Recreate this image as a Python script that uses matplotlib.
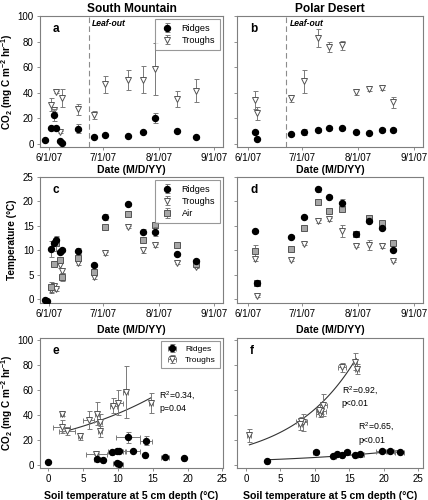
import matplotlib
matplotlib.use('Agg')
import matplotlib.pyplot as plt
import matplotlib.dates as mdates
from matplotlib.ticker import FuncFormatter
import numpy as np
import datetime as dt

plt.rcParams['font.family'] = ['Liberation Sans', 'DejaVu Sans']
plt.rcParams['mathtext.fontset'] = 'custom'
plt.rcParams['mathtext.rm'] = 'Liberation Sans'
plt.rcParams['mathtext.bf'] = 'Liberation Sans:bold'
plt.rcParams['mathtext.it'] = 'Liberation Sans:italic'

# ---------------- data ----------------
# South Mountain CO2 flux (panel a)
sm_ridge_co2_dates = ['5/30', '6/2', '6/4', '6/5', '6/7', '6/8', '6/17', '6/26', '7/2', '7/15', '7/23', '7/30', '8/11', '8/22']
sm_ridge_co2 = [3, 12, 22.5, 12, 2, 0.5, 11.7, 5.5, 7, 6, 8.9, 20, 10, 5]
sm_ridge_co2_err = [0.3, 1, 4.5, 1, 0.5, 0.3, 3.5, 0.5, 0.5, 0.5, 0.8, 4, 1, 1]
sm_trough_co2_dates = ['6/2', '6/4', '6/5', '6/7', '6/8', '6/17', '6/26', '7/2', '7/15', '7/23', '7/30', '8/11', '8/22']
sm_trough_co2 = [30.5, 26.5, 40.5, 9, 36, 27, 22.5, 46.5, 50, 50, 58.5, 35, 41.5]
sm_trough_co2_err = [5, 2, 0.5, 0.8, 7, 4.5, 3, 6.5, 8, 10.5, 20.5, 6.5, 9]

# Polar Desert CO2 flux (panel b)
pd_dates = ['6/5', '6/6', '6/25', '7/2', '7/10', '7/16', '7/23', '7/31', '8/7', '8/14', '8/20']
pd_ridge_co2 = [8.9, 4, 7.3, 9, 11, 12.5, 12, 9, 8.3, 11, 10.5]
pd_ridge_co2_err = [1, 0.5, 1, 2.5, 1.5, 1.5, 1.5, 1, 1, 1.5, 1.5]
pd_trough_co2 = [34, 24, 35.5, 49, 83, 76, 77, 40.6, 43, 44, 32.5]
pd_trough_co2_err = [7, 5, 3, 9, 7, 4, 3.5, 2.5, 2, 2, 4.5]

# South Mountain temperature (panel c)
sm_ridge_t_dates = ['5/30', '5/31', '6/2', '6/4', '6/5', '6/7', '6/8', '6/17', '6/26', '7/2', '7/15', '7/23', '7/30', '8/11', '8/22']
sm_ridge_t = [-0.1, -0.3, 10.2, 11.4, 12.2, 9.6, 10.1, 9.8, 6.9, 16.8, 19.4, 13.8, 13.8, 9.2, 7.9]
sm_ridge_t_err = [0.1, 0.1, 1.6, 0.5, 0.5, 0.4, 0.3, 0.6, 0.3, 0.6, 0.3, 0.5, 0.9, 0.3, 0.3]
sm_trough_t_dates = ['6/2', '6/4', '6/5', '6/7', '6/8', '6/17', '6/26', '7/2', '7/15', '7/23', '7/30', '8/11', '8/22']
sm_trough_t = [1.9, 2.7, 2.0, 6.9, 5.8, 7.3, 4.5, 9.4, 14.8, 10.1, 11.0, 7.4, 6.6]
sm_trough_t_err = [0.4, 0.4, 0.3, 0.6, 0.5, 0.4, 0.3, 0.3, 0.2, 0.6, 0.3, 0.3, 0.3]
sm_air_t_dates = ['6/2', '6/4', '6/5', '6/7', '6/8', '6/17', '6/26', '7/2', '7/15', '7/23', '7/30', '8/11', '8/22']
sm_air_t = [2.4, 7.1, 11.4, 8.1, 4.5, 8.5, 5.5, 14.8, 17.5, 12.2, 15.1, 11.1, 7.1]
sm_air_t_err = [1.2, 0.3, 1.5, 0.5, 0.8, 0.8, 0.5, 0.3, 0.5, 0.6, 0.5, 0.4, 0.4]

# Polar Desert temperature (panel d)
pd_ridge_t = [13.9, 3.3, 12.8, 16.8, 22.5, 21.0, 19.7, 13.3, 16.0, 14.6, 10.1]
pd_ridge_t_err = [0.3, 0.3, 0.3, 0.3, 0.5, 0.3, 0.8, 0.3, 0.3, 0.3, 0.3]
pd_trough_t = [8.3, 0.6, 8.1, 11.3, 15.9, 16.3, 13.9, 10.9, 11.0, 10.9, 7.8]
pd_trough_t_err = [0.5, 0.2, 0.3, 0.3, 0.3, 0.3, 1.2, 0.3, 1.0, 0.4, 0.3]
pd_air_t = [9.9, 3.3, 10.3, 14.6, 19.9, 18.0, 18.5, 13.3, 16.6, 15.6, 11.5]
pd_air_t_err = [1.2, 0.3, 0.3, 0.3, 0.3, 0.3, 0.5, 0.3, 0.3, 0.3, 0.4]

# Panel e: South Mountain flux vs soil temperature
sm_ridge_soil_t = [0, 11.4, 14.0, 7.0, 7.9, 9.2, 9.8, 10.2, 12.2, 13.9, 16.8, 19.5, 9.8, 10.2]
sm_ridge_soil_t_err = [0, 1.7, 0.9, 0.4, 0.3, 0.3, 1.2, 0.5, 1.0, 0.3, 0.6, 0.3, 0.5, 0.5]
sm_ridge_flux = [2.7, 22.0, 19.5, 4.8, 4.0, 10.1, 11.2, 11.5, 11.2, 8.2, 6.7, 5.5, 1.3, 0.5]
sm_ridge_flux_err = [0.3, 4.5, 3.5, 1, 1, 1, 1, 1, 1, 0.8, 0.5, 0.5, 0.5, 0.3]
sm_trough_soil_t = [1.9, 2.7, 2.0, 6.9, 5.8, 7.4, 4.5, 9.3, 14.7, 10.0, 11.1, 7.4, 7.0]
sm_trough_soil_t_err = [1.2, 1.2, 0.3, 1.5, 0.8, 0.3, 0.3, 0.5, 0.3, 0.7, 0.4, 0.3, 0.3]
sm_trough_flux = [30.6, 26.8, 40.5, 9.0, 35.8, 26.8, 22.9, 47.5, 49.6, 49.6, 58.4, 34.5, 41.0]
sm_trough_flux_err = [5, 3, 1.5, 0.8, 7, 4.5, 3, 6, 8, 10, 20.5, 6.5, 9]

# Panel f: Polar Desert flux vs soil temperature
pd_ridge_soil_t = [13.9, 3.1, 12.7, 16.6, 22.3, 20.9, 19.7, 13.2, 15.9, 14.6, 10.1]
pd_ridge_soil_t_err = [0.3, 0.3, 0.3, 0.5, 0.7, 0.6, 0.8, 0.3, 0.3, 0.3, 0.3]
pd_ridge_flux = [8.0, 3.5, 7.3, 8.6, 10.2, 11.2, 11.0, 8.6, 7.6, 10.5, 10.1]
pd_ridge_flux_err = [1, 0.5, 1, 2, 1, 1.5, 1.5, 1, 1, 1.5, 1.5]
pd_trough_soil_t = [8.3, 0.5, 8.0, 11.2, 15.8, 16.1, 13.9, 10.7, 10.9, 10.6, 7.8]
pd_trough_soil_t_err = [0.5, 0.3, 0.8, 0.5, 0.3, 0.3, 0.6, 0.5, 0.7, 0.5, 0.3]
pd_trough_flux = [34, 23.6, 35.5, 48, 82.6, 76.6, 78, 40.6, 43, 44, 32.5]
pd_trough_flux_err = [7, 5, 3, 9, 7, 4, 3.5, 2.5, 2, 2, 4.5]

# exponential fits y = a*exp(b*x) (a, b, xmin, xmax)
fit_e_trough = (23.4, 0.0563, 2.0, 14.8)
fit_f_trough = (15.2, 0.1077, 0.5, 16.0)
fit_f_ridge = (3.47, 0.0535, 3.0, 22.3)

leafout_sm = '6/23'
leafout_pd = '6/22'
date_ticks = ['6/1', '7/1', '8/1', '9/1']


def D(s):
    m, d = s.split('/')
    return dt.datetime(2007, int(m), int(d))


def DL(lst):
    return [D(s) for s in lst]


# ---------------- styles ----------------
FRAME = '#7f7f7f'
ECOL = '#7a7a7a'
ridge_kw = dict(fmt='o', color='black', mfc='black', mec='black', ms=4.3,
                ecolor=ECOL, elinewidth=0.7, capsize=1.8, capthick=0.7, zorder=4)
trough_kw = dict(fmt='v', mfc='white', mec='#555555', mew=0.7, ms=5,
                 ecolor=ECOL, elinewidth=0.7, capsize=1.8, capthick=0.7, zorder=3)
air_kw = dict(fmt='s', mfc='#a6a6a6', mec='#555555', mew=0.7, ms=4,
              ecolor=ECOL, elinewidth=0.7, capsize=1.8, capthick=0.7, zorder=3)

TICK_FS = 7.0
LAB_FS = 7.6

fig = plt.figure(figsize=(4.28, 5.0), dpi=100)
W, H = 428.0, 500.0


def add_axes(l, t, r, b):
    return fig.add_axes([l / W, 1 - b / H, (r - l) / W, (b - t) / H])


axa = add_axes(40, 16, 223, 147)
axb = add_axes(237, 16, 423, 147)
axc = add_axes(40, 177, 223, 303)
axd = add_axes(237, 177, 423, 303)
axe = add_axes(40, 338, 223, 468)
axf = add_axes(237, 338, 423, 468)


def style(ax, left_labels=True):
    for s in ax.spines.values():
        s.set_color(FRAME)
        s.set_linewidth(0.8)
    ax.tick_params(direction='out', length=2.5, width=0.6, color=FRAME,
                   labelsize=TICK_FS, pad=2, top=False, right=False)
    if not left_labels:
        ax.tick_params(labelleft=False)


def _fmt(v, p):
    d = mdates.num2date(v)
    return '%d/%d/%s' % (d.month, d.day, d.strftime('%y'))


date_fmt = FuncFormatter(_fmt)

# ---------------- panel a ----------------
ax = axa
ax.errorbar(DL(sm_trough_co2_dates), sm_trough_co2, yerr=sm_trough_co2_err, label='Troughs', **trough_kw)
ax.errorbar(DL(sm_ridge_co2_dates), sm_ridge_co2, yerr=sm_ridge_co2_err, label='Ridges', **ridge_kw)
ax.set_ylim(-2.5, 100)
ax.set_yticks([0, 20, 40, 60, 80, 100])

# ---------------- panel b ----------------
ax = axb
ax.errorbar(DL(pd_dates), pd_trough_co2, yerr=pd_trough_co2_err, **trough_kw)
ax.errorbar(DL(pd_dates), pd_ridge_co2, yerr=pd_ridge_co2_err, **ridge_kw)
ax.set_ylim(-2.5, 100)
ax.set_yticks([0, 20, 40, 60, 80, 100])

# ---------------- panel c ----------------
ax = axc
ax.errorbar(DL(sm_trough_t_dates), sm_trough_t, yerr=sm_trough_t_err, label='Troughs', **trough_kw)
ax.errorbar(DL(sm_air_t_dates), sm_air_t, yerr=sm_air_t_err, label='Air', **air_kw)
ax.errorbar(DL(sm_ridge_t_dates), sm_ridge_t, yerr=sm_ridge_t_err, label='Ridges', **ridge_kw)
ax.set_ylim(-0.8, 25)
ax.set_yticks([0, 5, 10, 15, 20, 25])

# ---------------- panel d ----------------
ax = axd
ax.errorbar(DL(pd_dates), pd_trough_t, yerr=pd_trough_t_err, **trough_kw)
ax.errorbar(DL(pd_dates), pd_ridge_t, yerr=pd_ridge_t_err, **ridge_kw)
ax.errorbar(DL(pd_dates), pd_air_t, yerr=pd_air_t_err, **air_kw)
ax.set_ylim(-0.8, 25)
ax.set_yticks([0, 5, 10, 15, 20, 25])

for ax, left, x0, x1, lp in [(axa, True, '5/27', '9/5', 1.5), (axb, False, '5/26', '9/5', 1.5),
                             (axc, True, '5/27', '9/5', 4), (axd, False, '5/26', '9/5', 4)]:
    ax.set_xlim(D(x0), D(x1) + dt.timedelta(hours=18))
    ax.set_xticks(DL(date_ticks))
    ax.xaxis.set_major_formatter(date_fmt)
    style(ax, left)
    ax.set_xlabel('Date (M/D/YY)', fontsize=LAB_FS, fontweight='bold', labelpad=lp)

# leaf-out lines
for ax, lo in [(axa, leafout_sm), (axb, leafout_pd)]:
    ax.axvline(D(lo), color='#8c8c8c', lw=0.8, ls=(0, (5, 3)), zorder=1)
    ax.text(D(lo) + dt.timedelta(days=2), 97.5, 'Leaf-out', fontsize=6.2,
            fontweight='bold', style='italic', va='top', ha='left')

# ---------------- panel e ----------------
ax = axe
ax.errorbar(sm_trough_soil_t, sm_trough_flux, xerr=sm_trough_soil_t_err, yerr=sm_trough_flux_err,
            label='Troughs', **trough_kw)
ax.errorbar(sm_ridge_soil_t, sm_ridge_flux, xerr=sm_ridge_soil_t_err, yerr=sm_ridge_flux_err,
            label='Ridges', **ridge_kw)
a_, b_, x0, x1 = fit_e_trough
xx = np.linspace(x0, x1, 100)
ax.plot(xx, a_ * np.exp(b_ * xx), color='#333333', lw=0.8, zorder=2)
ax.text(15.9, 50.5, 'R$^2$=0.34,\np=0.04', fontsize=6.3, va='center', ha='left', linespacing=1.3)
ax.set_xlim(-1.2, 25.1)

# ---------------- panel f ----------------
ax = axf
ax.errorbar(pd_trough_soil_t, pd_trough_flux, xerr=pd_trough_soil_t_err, yerr=pd_trough_flux_err,
            **trough_kw)
ax.errorbar(pd_ridge_soil_t, pd_ridge_flux, xerr=pd_ridge_soil_t_err, yerr=pd_ridge_flux_err,
            **ridge_kw)
for fitp in (fit_f_trough, fit_f_ridge):
    a_, b_, x0, x1 = fitp
    xx = np.linspace(x0, x1, 100)
    ax.plot(xx, a_ * np.exp(b_ * xx), color='#333333', lw=0.8, zorder=2)
ax.text(13.9, 55, 'R$^2$=0.92,\np<0.01', fontsize=6.3, va='center', ha='left', linespacing=1.3)
ax.text(16.3, 25.5, 'R$^2$=0.65,\np<0.01', fontsize=6.3, va='center', ha='left', linespacing=1.3)
ax.set_xlim(-1.3, 25.7)

for ax, left in [(axe, True), (axf, False)]:
    ax.set_ylim(-2.5, 101.5)
    ax.set_yticks([0, 20, 40, 60, 80, 100])
    ax.set_xticks([0, 5, 10, 15, 20, 25])
    style(ax, left)
    ax.set_xlabel('Soil temperature at 5 cm depth (\u00b0C)', fontsize=LAB_FS,
                  fontweight='bold', labelpad=5)

# y labels (right edge of rotated text sits at the given coordinate)
co2_label = 'CO$_\\mathbf{2}$ (mg C m$^\\mathbf{-2}$ hr$^\\mathbf{-1}$)'
for ax in (axa, axe):
    ax.set_ylabel(co2_label, fontsize=7.2, fontweight='bold')
    ax.yaxis.set_label_coords(-0.135, 0.5)
axc.set_ylabel('Temperature (\u00b0C)', fontsize=7.2, fontweight='bold')
axc.yaxis.set_label_coords(-0.125, 0.5)

# titles
axa.set_title('South Mountain', fontsize=8.6, fontweight='bold', pad=3)
axb.set_title('Polar Desert', fontsize=8.6, fontweight='bold', pad=3)

# panel letters
for ax, let in [(axa, 'a'), (axb, 'b'), (axc, 'c'), (axd, 'd'), (axe, 'e'), (axf, 'f')]:
    ax.text(0.07, 0.9, let, transform=ax.transAxes, fontsize=8.5, fontweight='bold',
            va='center', ha='left')

# legends
leg_kw = dict(loc='upper right', fontsize=6.6, frameon=True, fancybox=False,
              edgecolor=FRAME, borderpad=0.5, handletextpad=0.8, labelspacing=0.35,
              borderaxespad=0.35, handlelength=1.6)
h, l = axa.get_legend_handles_labels()
order = [l.index('Ridges'), l.index('Troughs')]
lg = axa.legend([h[i] for i in order], [l[i] for i in order], **leg_kw)
lg.get_frame().set_linewidth(0.8)
h, l = axc.get_legend_handles_labels()
order = [l.index('Ridges'), l.index('Troughs'), l.index('Air')]
lg = axc.legend([h[i] for i in order], [l[i] for i in order], **leg_kw)
lg.get_frame().set_linewidth(0.8)
h, l = axe.get_legend_handles_labels()
order = [l.index('Ridges'), l.index('Troughs')]
kw = dict(leg_kw)
kw['fontsize'] = 6.0
lg = axe.legend([h[i] for i in order], [l[i] for i in order], **kw)
lg.get_frame().set_linewidth(0.8)

fig.savefig('out.png', dpi=100)
